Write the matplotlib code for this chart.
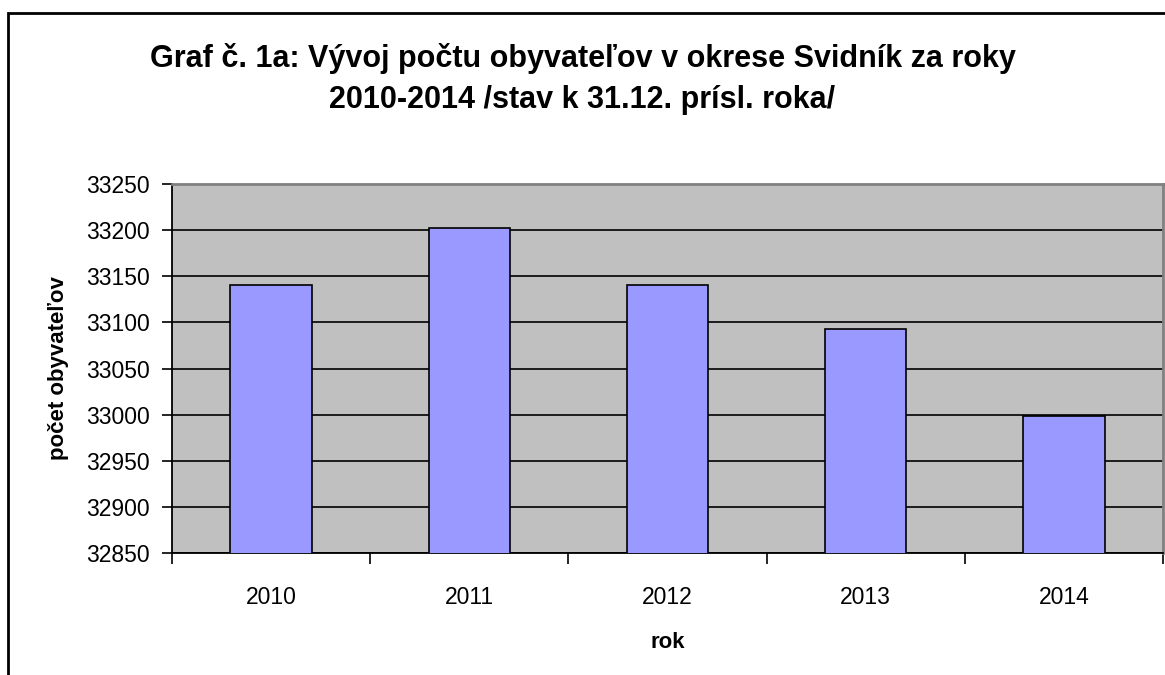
import matplotlib.pyplot as plt
from matplotlib.patches import Rectangle

# Daten: Einwohnerzahl im Bezirk Svidník
roky = ["2010", "2011", "2012", "2013", "2014"]
obyvatelia = [33141, 33202, 33141, 33093, 32998]

plt.rcParams['font.family'] = ['Liberation Sans', 'DejaVu Sans']

fig = plt.figure(figsize=(11.65, 6.75), dpi=100)
ax = fig.add_axes([172 / 1165, 1 - 553 / 675, 991 / 1165, 369 / 675])

# aeusserer Rahmen des Diagramms
fig.patches.append(Rectangle((8 / 1165, -0.1), 1.2, 0.1 + 1 - 13 / 675,
                             transform=fig.transFigure, fill=False,
                             edgecolor='black', linewidth=2))

ax.set_facecolor('#c0c0c0')
x = range(len(roky))
ax.bar(x, obyvatelia, width=0.41, color='#9999ff', edgecolor='black',
       linewidth=1.2, zorder=3)

ax.set_ylim(32850, 33250)
ax.set_xlim(-0.5, len(roky) - 0.5)
ax.set_yticks(range(32850, 33251, 50))
ax.yaxis.grid(True, color='black', linewidth=1.2, zorder=1)
ax.set_axisbelow(True)

ax.set_xticks([i - 0.5 for i in range(len(roky) + 1)], minor=False)
ax.set_xticklabels([])
ax.set_xticks(list(x), minor=True)
ax.set_xticklabels(roky, minor=True, fontsize=16.5)
ax.tick_params(axis='x', which='minor', length=0, pad=24)
ax.tick_params(axis='x', which='major', length=8, width=1.2, direction='out')
ax.tick_params(axis='y', length=7, width=1.2, direction='out', labelsize=16.5, pad=9)

for s in ['top', 'right']:
    ax.spines[s].set_color('#808080')
    ax.spines[s].set_linewidth(2)
for s in ['left', 'bottom']:
    ax.spines[s].set_linewidth(1.3)

ax.set_xlabel("rok", fontsize=16, fontweight='bold', labelpad=16)
ax.set_ylabel("počet obyvateľov", fontsize=16, fontweight='bold', labelpad=12)

fig.text(0.5, 1 - 79 / 675,
         "Graf č. 1a: Vývoj počtu obyvateľov v okrese Svidník za roky\n2010-2014 /stav k 31.12. prísl. roka/",
         ha='center', va='center', fontsize=22, fontweight='bold', linespacing=1.45)

fig.savefig("out.png", dpi=100)
